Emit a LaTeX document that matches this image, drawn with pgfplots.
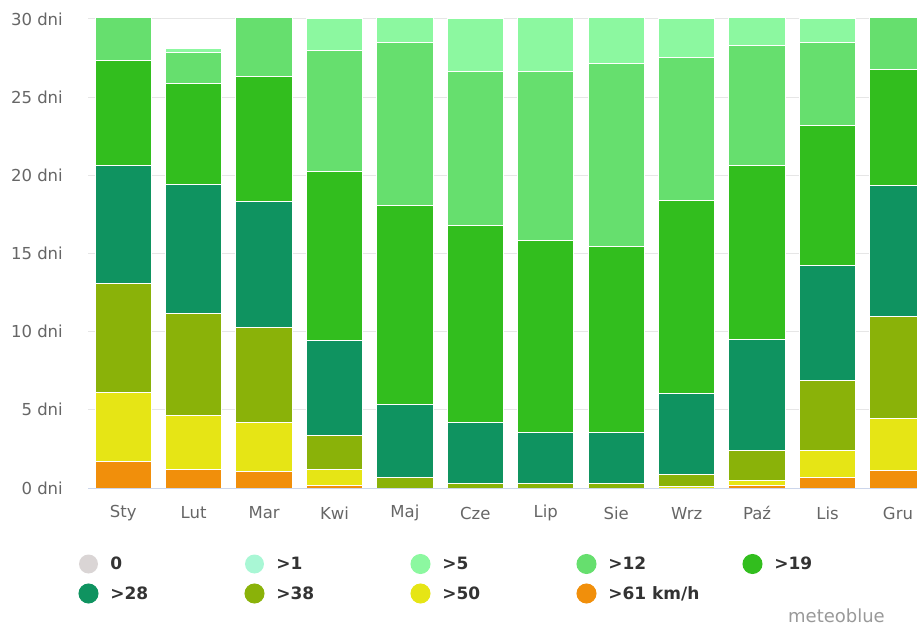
\documentclass[border=0pt]{standalone}
\usepackage{pgfplots}
\usepackage{pgfplotstable}
\pgfplotsset{compat=1.18}
\usepackage{fontspec}
\setmainfont{DejaVu Sans}
\definecolor{c0}{HTML}{DAD5D5}
\definecolor{c1}{HTML}{A9F7D5}
\definecolor{c5}{HTML}{8CF8A0}
\definecolor{c12}{HTML}{66DF6E}
\definecolor{c19}{HTML}{32BE1E}
\definecolor{c28}{HTML}{0F9360}
\definecolor{c38}{HTML}{8AB209}
\definecolor{c50}{HTML}{E6E515}
\definecolor{c61}{HTML}{F18F0B}
\definecolor{gridc}{HTML}{E6E6E6}
\definecolor{axc}{HTML}{CCD6EB}
\definecolor{labc}{HTML}{666666}
\definecolor{legc}{HTML}{333333}
\pgfplotstableread{
m a61 a50 a38 a28 a19 a12 a5 a1 a0
0 1.68 4.40 7.02 7.55 6.71 3.64 0 0 0
1 1.17 3.48 6.50 8.28 6.42 2.02 0.25 0 0
2 1.07 3.15 6.02 8.06 8.04 4.66 0 0 0
3 0.15 1.02 2.16 6.10 10.79 7.74 2.04 0 0
4 0 0 0.66 4.69 12.74 10.40 2.51 0 0
5 0 0 0.26 3.96 12.54 9.88 3.36 0 0
6 0 0 0.26 3.26 12.33 10.79 4.36 0 0
7 0 0 0.26 3.26 11.90 11.73 3.85 0 0
8 0 0.09 0.78 5.19 12.32 9.17 2.45 0 0
9 0.17 0.30 1.92 7.12 11.14 7.63 2.72 0 0
10 0.64 1.75 4.50 7.33 8.96 5.31 1.51 0 0
11 1.09 3.34 6.53 8.36 7.44 4.24 0 0 0
}\data
\pgfplotsset{circ/.style={fill=#1, legend image code/.code={\fill[#1] (0bp,0bp) circle (9.5bp);}}}
\newcommand{\lent}[1]{\makebox[120bp][l]{#1}}
\begin{document}
\begin{tikzpicture}
\useasboundingbox (0,0) rectangle (917bp,625bp);
\begin{axis}[
  at={(88bp,137bp)}, anchor=south west,
  scale only axis, width=829bp, height=469bp,
  ybar stacked, bar width=0.8,
  xmin=-0.5, xmax=11.27, ymin=0, ymax=30,
  enlargelimits=false,
  xtick={0,...,11},
  xticklabels={Sty,Lut,Mar,Kwi,Maj,Cze,Lip,Sie,Wrz,Paź,Lis,Gru},
  ytick={0,5,...,30},
  yticklabels={0 dni,5 dni,10 dni,15 dni,20 dni,25 dni,30 dni},
  major tick length=0pt,
  tick style={draw=none},
  ymajorgrids, grid style={gridc, line width=1bp},
  axis x line*=bottom, axis y line*=left,
  x axis line style={axc, line width=1bp, -},
  y axis line style={draw=none},
  xticklabel style={font=\fontsize{16.5bp}{19bp}\selectfont, text=labc, anchor=center, inner sep=0pt, yshift=-25bp},
  yticklabel style={font=\fontsize{16.5bp}{19bp}\selectfont, text=labc, anchor=east, inner sep=0pt, xshift=-25bp},
  every axis plot/.append style={draw=white, line width=1bp},
  reverse legend,
  legend columns=5,
  legend style={draw=none, fill=none, inner sep=0pt, outer sep=0pt,
    at={(0,0)}, anchor=north west, xshift=-9.5bp, yshift=-66bp,
    font=\fontsize{17bp}{20bp}\selectfont\bfseries, text=legc,
    row sep=9.5bp,
    nodes={inner sep=0pt},
    /tikz/every odd column/.append style={column sep=11.8bp},
    /tikz/every even column/.append style={column sep=14.2bp}},
  legend cell align=left,
]
\addplot[circ=c61] table[x=m,y=a61]{\data};
\addlegendentry{\lent{>61 km/h}}
\addplot[circ=c50] table[x=m,y=a50]{\data};
\addlegendentry{\lent{>50}}
\addplot[circ=c38] table[x=m,y=a38]{\data};
\addlegendentry{\lent{>38}}
\addplot[circ=c28] table[x=m,y=a28]{\data};
\addlegendentry{\lent{>28}}
\addplot[circ=c19] table[x=m,y=a19]{\data};
\addlegendentry{\lent{>19}}
\addplot[circ=c12] table[x=m,y=a12]{\data};
\addlegendentry{\lent{>12}}
\addplot[circ=c5] table[x=m,y=a5]{\data};
\addlegendentry{\lent{>5}}
\addplot[circ=c1, draw=none] table[x=m,y=a1]{\data};
\addlegendentry{\lent{>1}}
\addplot[circ=c0, draw=none] table[x=m,y=a0]{\data};
\addlegendentry{\lent{0}}
\end{axis}
\node[anchor=base east, inner sep=0pt, text=black!40, font=\fontsize{18bp}{20bp}\selectfont] at (885bp,3bp) {meteoblue};
\end{tikzpicture}
\end{document}
